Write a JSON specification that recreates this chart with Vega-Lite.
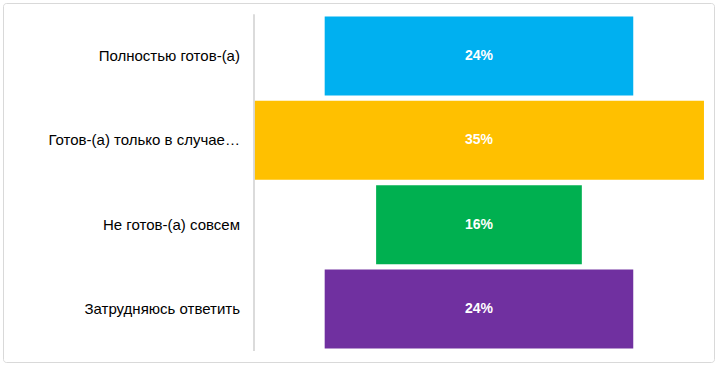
{
  "$schema": "https://vega.github.io/schema/vega-lite/v6.json",
  "width": 720,
  "height": 366,
  "autosize": {"type": "fit", "contains": "padding"},
  "padding": {"left": 3, "top": 3, "right": 6, "bottom": 4},
  "background": "white",
  "config": {"view": {"stroke": "#d9d9d9", "strokeWidth": 1, "cornerRadius": 3}},
  "data": {
    "values": [
      {"cat": "Полностью готов-(а)", "pct": 24, "label": "24%"},
      {"cat": "Готов-(а) только в случае…", "pct": 35, "label": "35%"},
      {"cat": "Не готов-(а) совсем", "pct": 16, "label": "16%"},
      {"cat": "Затрудняюсь ответить", "pct": 24, "label": "24%"}
    ]
  },
  "encoding": {
    "y": {
      "field": "cat",
      "type": "nominal",
      "sort": null,
      "axis": null,
      "scale": {"paddingInner": 0.063, "paddingOuter": 0.16}
    }
  },
  "layer": [
    {
      "mark": {"type": "bar"},
      "encoding": {
        "x": {
          "field": "pct",
          "type": "quantitative",
          "stack": "center",
          "axis": null,
          "scale": {"domain": [-19.52, 35.78], "nice": false, "zero": false}
        },
        "color": {
          "field": "cat",
          "type": "nominal",
          "legend": null,
          "scale": {
            "domain": ["Полностью готов-(а)", "Готов-(а) только в случае…", "Не готов-(а) совсем", "Затрудняюсь ответить"],
            "range": ["#00B0F0", "#FFC000", "#00B050", "#7030A0"]
          }
        }
      }
    },
    {
      "mark": {"type": "rule", "color": "#d9d9d9", "strokeWidth": 1, "yOffset": -2, "y2Offset": 42},
      "encoding": {
        "x": {"datum": 0, "type": "quantitative"},
        "y": {"datum": "Полностью готов-(а)", "bandPosition": 0},
        "y2": {"datum": "Затрудняюсь ответить"}
      }
    },
    {
      "mark": {"type": "text", "align": "right", "baseline": "middle", "dx": -14, "font": "Liberation Sans", "fontSize": 15, "color": "#000000"},
      "encoding": {
        "x": {"datum": 0, "type": "quantitative"},
        "text": {"field": "cat"}
      }
    },
    {
      "mark": {"type": "text", "align": "center", "baseline": "middle", "font": "Liberation Sans", "fontSize": 14, "fontWeight": "bold", "color": "#ffffff"},
      "encoding": {
        "x": {"datum": 17.5, "type": "quantitative"},
        "text": {"field": "label"}
      }
    }
  ]
}
